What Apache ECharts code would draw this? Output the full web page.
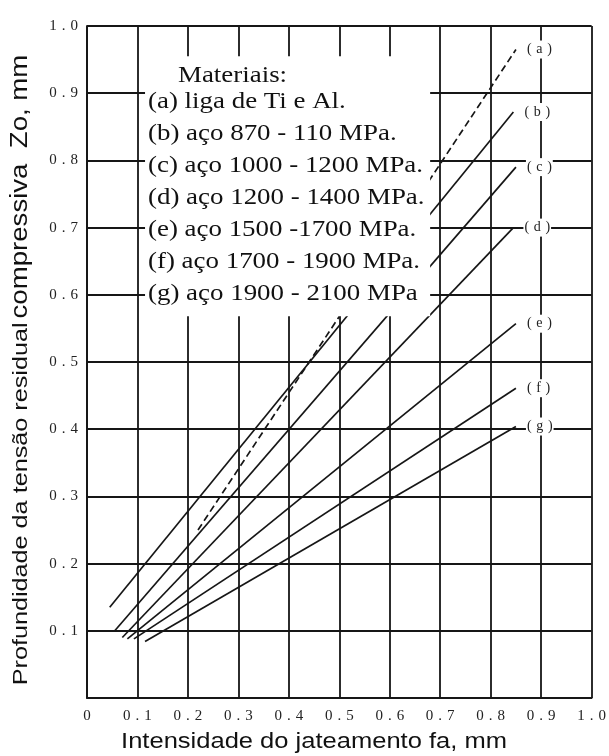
<!DOCTYPE html>
<html><head><meta charset="utf-8">
<script src="https://cdn.jsdelivr.net/npm/echarts@6/dist/echarts.min.js"></script>
<style>html,body{margin:0;padding:0;background:#fff}#c{width:609px;height:756px}</style>
</head><body><div id="c"></div>
<script>
// ---- data ----
const seriesLabels = ['(a)','(b)','(c)','(d)','(e)','(f)','(g)'];
const xStart = [0.22, 0.045, 0.055, 0.07, 0.08, 0.093, 0.115];
const yStart = [0.25, 0.135, 0.100, 0.090, 0.088, 0.088, 0.084];
const xEnd   = [0.85, 0.845, 0.85, 0.845, 0.85, 0.85, 0.85];
const yEnd   = [0.965, 0.872, 0.79, 0.70, 0.557, 0.461, 0.404];
const xTickLabels = ['0','0.1','0.2','0.3','0.4','0.5','0.6','0.7','0.8','0.9','1.0'];
const yTickLabels = ['','0.1','0.2','0.3','0.4','0.5','0.6','0.7','0.8','0.9','1.0'];
const legendTitle = 'Materiais:';
const legendItems = [
  '(a) liga de Ti e Al.',
  '(b) aço 870 - 110 MPa.',
  '(c) aço 1000 - 1200 MPa.',
  '(d) aço 1200 - 1400 MPa.',
  '(e) aço 1500 -1700 MPa.',
  '(f) aço 1700 - 1900 MPa.',
  '(g) aço 1900 - 2100 MPa'
];
const xTitle = 'Intensidade do jateamento fa, mm';
const yTitleA = 'Profundidade da tensão residual';
const yTitleB = 'compressiva  Zo, mm';

// ---- chart ----
const spaced = s => s.split('').join('\u2004');
const SERIF = '"Liberation Serif", "Times New Roman", serif';
const SANS = '"Liberation Sans", Arial, sans-serif';
const chart = echarts.init(document.getElementById('c'), null, {renderer: 'canvas'});
const grid = {left: 87, right: 14, top: 26, bottom: 58};
const lineColor = '#161616';

const series = seriesLabels.map((lab, i) => ({
  type: 'line', name: lab,
  data: [[xStart[i], yStart[i]], [xEnd[i], yEnd[i]]],
  symbol: 'none', showSymbol: false, silent: true, z: 3,
  lineStyle: {color: lineColor, width: 1.7, type: i === 0 ? [7, 4] : 'solid'},
  endLabel: {
    show: true, formatter: spaced(lab), distance: 10,
    fontFamily: SERIF, fontSize: 14, color: '#222',
    backgroundColor: '#fff', padding: [2, 1]
  }
}));

chart.setOption({
  animation: false,
  backgroundColor: '#fff',
  grid: grid,
  xAxis: {
    type: 'value', min: 0, max: 1, interval: 0.1,
    axisLine: {show: true, onZero: false, lineStyle: {color: lineColor, width: 1.8}},
    axisTick: {show: false},
    splitLine: {show: true, lineStyle: {color: lineColor, width: 1.8}},
    axisLabel: {
      margin: 11, fontFamily: SERIF, fontSize: 15, color: '#222',
      formatter: v => spaced(xTickLabels[Math.round(v * 10)] || '')
    }
  },
  yAxis: {
    type: 'value', min: 0, max: 1, interval: 0.1,
    axisLine: {show: true, lineStyle: {color: lineColor, width: 1.8}},
    axisTick: {show: false},
    splitLine: {show: true, lineStyle: {color: lineColor, width: 1.8}},
    axisLabel: {
      margin: 9, fontFamily: SERIF, fontSize: 15, color: '#222',
      formatter: v => spaced(yTickLabels[Math.round(v * 10)] || '')
    }
  },
  series: series
});

// white panel behind the materials list (covers grid and lines as in the scan)
const p1 = chart.convertToPixel({gridIndex: 0}, [0.115, 0.955]);
const p2 = chart.convertToPixel({gridIndex: 0}, [0.68, 0.568]);
const g = [];
g.push({type: 'rect', z: 50, silent: true,
  shape: {x: p1[0], y: p1[1], width: p2[0] - p1[0], height: p2[1] - p1[1]},
  style: {fill: '#fff'}});
g.push({type: 'text', z: 100, x: 178, y: 76, scaleX: 1.17,
  style: {text: legendTitle, font: '23px ' + SERIF, fill: '#111', textVerticalAlign: 'middle'}});
legendItems.forEach((t, i) => {
  g.push({type: 'text', z: 100, x: 148, y: 102 + i * 32, scaleX: 1.17,
    style: {text: t, font: '23px ' + SERIF, fill: '#111', textVerticalAlign: 'middle'}});
});
g.push({type: 'text', z: 100, x: 314, y: 742, scaleX: 1.16,
  style: {text: xTitle, font: '22px ' + SANS, fill: '#111', textAlign: 'center', textVerticalAlign: 'middle'}});
g.push({type: 'text', z: 100, x: 21, y: 370, rotation: Math.PI / 2, scaleX: 1.2,
  style: {text: '{a|' + yTitleA + '} {b|' + yTitleB + '}', textAlign: 'center', textVerticalAlign: 'middle', fill: '#111',
    rich: {a: {font: '21px ' + SANS, fill: '#111'}, b: {font: '23px ' + SANS, fill: '#111'}}}});
chart.setOption({graphic: g});
</script></body></html>
